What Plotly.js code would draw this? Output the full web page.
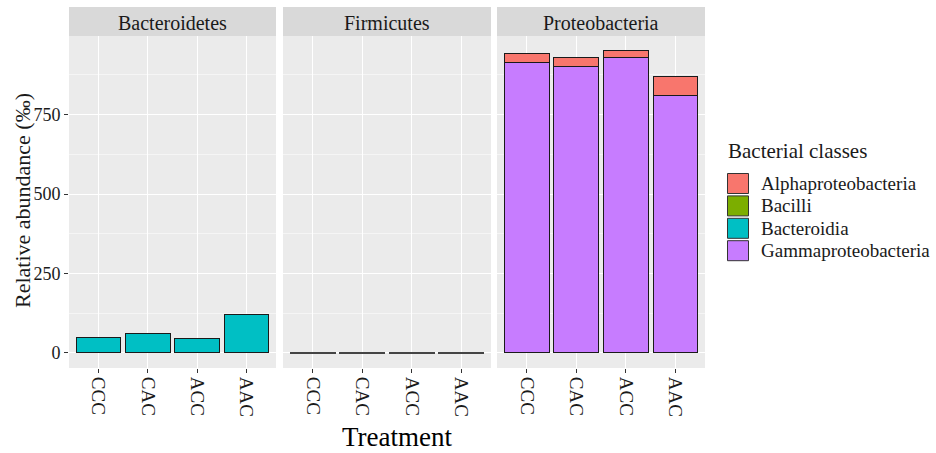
<!DOCTYPE html>
<html><head><meta charset="utf-8">
<script src="https://cdn.plot.ly/plotly-3.0.1.min.js"></script>
<style>html,body{margin:0;padding:0;background:#fff}#chart{width:936px;height:453px}</style>
</head><body><div id="chart"></div>
<script>
// ---- data ----
const treatments = ['CCC', 'CAC', 'ACC', 'AAC'];
const phyla = ['Bacteroidetes', 'Firmicutes', 'Proteobacteria'];
const classes = ['Alphaproteobacteria', 'Bacilli', 'Bacteroidia', 'Gammaproteobacteria'];
const classColors = ['#F8766D', '#7CAE00', '#00BFC4', '#C77CFF'];
const bacteroidia = [49.5, 62, 44, 122];          // Bacteroidetes panel
const bacilli = [0.8, 0.6, 0.5, 0.7];             // Firmicutes panel
const gammaproteobacteria = [914, 900, 929, 811]; // Proteobacteria panel
const alphaproteobacteria = [30, 30, 22, 60];     // Proteobacteria panel (stacked on top)
const yTicks = [0, 250, 500, 750];
const yMinor = [125, 375, 625, 875];

// ---- layout geometry (pixels) ----
const W = 936, H = 453;
const L = 69, R = 231, T = 36, B = 85;
const pw = W - L - R, ph = H - T - B;
const px2x = p => (p - L) / pw;
const py2y = p => (H - B - p) / ph;
const panelPx = [[69, 276], [283, 491], [497, 705]];
const domains = panelPx.map(d => [px2x(d[0]), px2x(d[1])]);

const FONT = '"Liberation Serif", "Times New Roman", serif';
const TXT = '#1a1a1a';
const line = {color: '#1a1a1a', width: 1};

const traces = [
  {type: 'bar', name: classes[2], x: treatments, y: bacteroidia, xaxis: 'x', yaxis: 'y',
   marker: {color: classColors[2], line: line}, width: 0.9, showlegend: false},
  {type: 'bar', name: classes[1], x: treatments, y: bacilli, xaxis: 'x2', yaxis: 'y2',
   marker: {color: classColors[1], line: {color: '#444', width: 1.2}}, width: 0.9, showlegend: false},
  {type: 'bar', name: classes[3], x: treatments, y: gammaproteobacteria, xaxis: 'x3', yaxis: 'y3',
   marker: {color: classColors[3], line: line}, width: 0.9, showlegend: false},
  {type: 'bar', name: classes[0], x: treatments, y: alphaproteobacteria, xaxis: 'x3', yaxis: 'y3',
   marker: {color: classColors[0], line: line}, width: 0.9, showlegend: false}
];

function xaxis(i) {
  return {
    domain: domains[i], anchor: i === 0 ? 'y' : 'y' + (i + 1), type: 'category',
    categoryorder: 'array', categoryarray: treatments,
    range: [-0.6, 3.6], tickangle: 90, ticks: 'outside', ticklen: 4, tickwidth: 1, tickcolor: '#333',
    showgrid: true, gridcolor: '#ffffff', gridwidth: 1.1, zeroline: false, showline: false,
    tickfont: {family: FONT, size: 19, color: TXT}, fixedrange: true
  };
}
function yaxis(i) {
  const a = {
    domain: [0, 1], anchor: i === 0 ? 'x' : 'x' + (i + 1), range: [-47.5, 997.5],
    tickmode: 'array', tickvals: yTicks, ticktext: yTicks.map(String),
    showgrid: true, gridcolor: '#ffffff', gridwidth: 1.1, zeroline: false, showline: false,
    minor: {tickmode: 'array', tickvals: yMinor, showgrid: true, gridcolor: '#ffffff', gridwidth: 0.5, ticks: ''},
    fixedrange: true
  };
  if (i === 0) {
    Object.assign(a, {ticks: 'outside', ticklen: 4, tickwidth: 1, tickcolor: '#333',
      tickfont: {family: FONT, size: 18, color: TXT}});
  } else {
    Object.assign(a, {matches: 'y', showticklabels: false, ticks: ''});
  }
  return a;
}

const shapes = [];
const annotations = [];
// facet strips
phyla.forEach((p, i) => {
  shapes.push({type: 'rect', xref: 'paper', yref: 'paper', x0: domains[i][0], x1: domains[i][1],
    y0: py2y(36), y1: py2y(7), fillcolor: '#D9D9D9', line: {width: 0}, layer: 'below'});
  annotations.push({xref: 'paper', yref: 'paper', x: (domains[i][0] + domains[i][1]) / 2, y: py2y(23),
    xanchor: 'center', yanchor: 'middle', showarrow: false, text: p,
    font: {family: FONT, size: 20, color: TXT}});
});
// axis titles
annotations.push({xref: 'paper', yref: 'paper', x: px2x(397), y: py2y(437), xanchor: 'center', yanchor: 'middle',
  showarrow: false, text: 'Treatment', font: {family: FONT, size: 27, color: '#000'}});
annotations.push({xref: 'paper', yref: 'paper', x: px2x(22), y: py2y(201), xanchor: 'center', yanchor: 'middle',
  textangle: -90, showarrow: false, text: 'Relative abundance (‰)', font: {family: FONT, size: 22, color: TXT}});
// legend
annotations.push({xref: 'paper', yref: 'paper', x: px2x(726), y: py2y(151), xanchor: 'left', yanchor: 'middle',
  showarrow: false, text: 'Bacterial classes', font: {family: FONT, size: 21, color: TXT}});
classes.forEach((c, i) => {
  const top = 173 + i * 22.4;
  shapes.push({type: 'rect', xref: 'paper', yref: 'paper', x0: px2x(727.5), x1: px2x(748.5),
    y0: py2y(top + 20.5), y1: py2y(top + 0.5), fillcolor: classColors[i], line: {color: '#333', width: 1}});
  annotations.push({xref: 'paper', yref: 'paper', x: px2x(759), y: py2y(top + 10.5), xanchor: 'left', yanchor: 'middle',
    showarrow: false, text: c, font: {family: FONT, size: 19, color: TXT}});
});

const layout = {
  width: W, height: H, autosize: false,
  margin: {l: L, r: R, t: T, b: B, pad: 0},
  paper_bgcolor: '#ffffff', plot_bgcolor: '#EBEBEB',
  barmode: 'stack', showlegend: false,
  xaxis: xaxis(0), xaxis2: xaxis(1), xaxis3: xaxis(2),
  yaxis: yaxis(0), yaxis2: yaxis(1), yaxis3: yaxis(2),
  shapes: shapes, annotations: annotations,
  font: {family: FONT, color: TXT}
};

Plotly.newPlot('chart', traces, layout, {displayModeBar: false, staticPlot: true});
</script>
</body></html>
